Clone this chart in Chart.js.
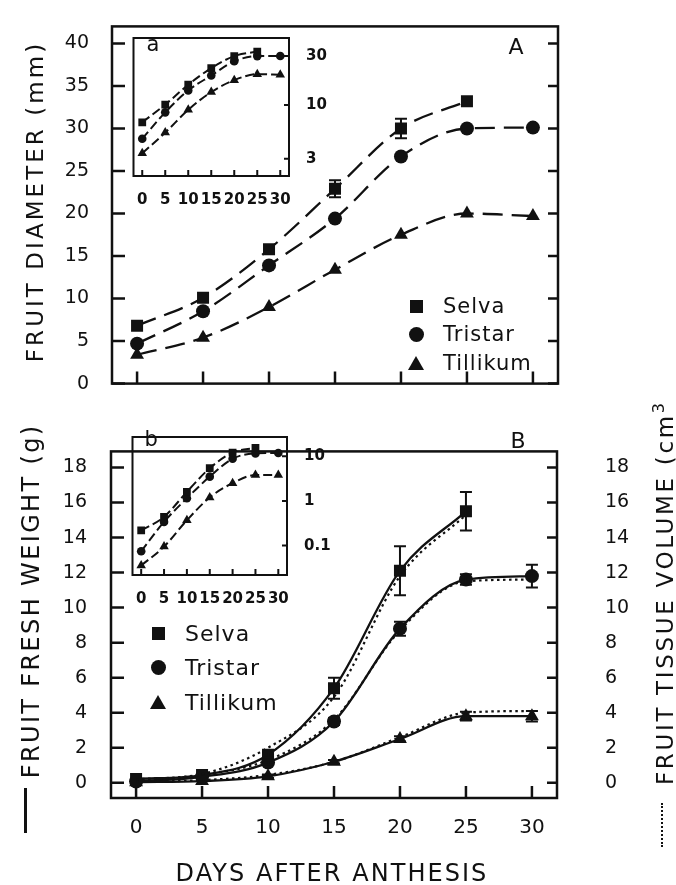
<!DOCTYPE html>
<html><head><meta charset="utf-8">
<script src="https://cdn.jsdelivr.net/npm/chart.js@4.4.1/dist/chart.umd.min.js"></script>
<style>
html,body{margin:0;padding:0;background:#fff;}
body{width:676px;height:885px;position:relative;overflow:hidden;font-family:"DejaVu Sans",sans-serif;color:#111;}
.box{position:absolute;}
.lbl{position:absolute;white-space:nowrap;line-height:1;color:#111;}
.mk{position:absolute;}
</style></head><body>
<div class="box" style="left:0;top:0;width:676px;height:410px"><canvas id="cA"></canvas></div>
<div class="box" style="left:0;top:400px;width:676px;height:485px"><canvas id="cB"></canvas></div>
<div class="box" style="left:128px;top:20px;width:202px;height:186px"><canvas id="ca"></canvas></div>
<div class="box" style="left:127px;top:419px;width:203px;height:186px"><canvas id="cb"></canvas></div>
<script>
// ---------- data ----------
const cultivars = ['Selva', 'Tristar', 'Tillikum'];
const days = [0, 5, 10, 15, 20, 25, 30];
const dayTicks = [0, 5, 10, 15, 20, 25, 30];
const diamTicks = [0, 5, 10, 15, 20, 25, 30, 35, 40];
const weightTicks = [0, 2, 4, 6, 8, 10, 12, 14, 16, 18];
const insetATicks = [3, 10, 30];
const insetBTicks = [0.1, 1, 10];

const diamSelva    = [6.8, 10.1, 15.8, 22.9, 30.0, 33.2, null];
const diamTristar  = [4.7, 8.5, 13.9, 19.4, 26.7, 30.0, 30.1];
const diamTillikum = [3.4, 5.4, 9.0, 13.4, 17.5, 20.0, 19.7];
const diamSelvaErr    = [0, 0, 0, 1.0, 1.15, 0, 0];
const diamTristarErr  = [0, 0, 0, 0, 0, 0, 0];
const diamTillikumErr = [0, 0, 0, 0, 0, 0, 0];

const weightSelva    = [0.22, 0.44, 1.6, 5.4, 12.1, 15.5, null];
const weightTristar  = [0.075, 0.34, 1.15, 3.5, 8.8, 11.6, 11.8];
const weightTillikum = [0.036, 0.095, 0.37, 1.2, 2.5, 3.8, 3.8];
const weightSelvaErr    = [0, 0, 0.15, 0.6, 1.4, 1.1, 0];
const weightTristarErr  = [0, 0, 0.1, 0.2, 0.4, 0.3, 0.65];
const weightTillikumErr = [0, 0, 0.1, 0.1, 0.15, 0.25, 0.3];

const volSelva    = [0.2, 0.5, 2.0, 4.9, 11.8, 15.3, null];
const volTristar  = [0.1, 0.45, 1.3, 3.6, 8.7, 11.5, 11.6];
const volTillikum = [0.05, 0.15, 0.45, 1.2, 2.6, 4.0, 4.1];

// ---------- helpers ----------
const INK = '#111';
const FAM = '"DejaVu Sans", sans-serif';
const styles = ['rect', 'circle', 'triangle'];
const pts = arr => days.map((d, i) => ({x: d, y: arr[i]}));

const framePlugin = {
  id: 'frame',
  afterDraw(chart, args, o) {
    const {ctx, chartArea: a} = chart;
    ctx.save();
    ctx.strokeStyle = INK; ctx.lineWidth = o.lw || 2.5;
    ctx.strokeRect(a.left, a.top, a.right - a.left, a.bottom - a.top);
    const ys = chart.scales.y, xs = chart.scales.x;
    ctx.beginPath();
    ys.ticks.forEach(t => {
      const p = ys.getPixelForValue(t.value);
      if (o.left) { ctx.moveTo(a.left, p); ctx.lineTo(a.left + o.left, p); }
      if (o.right) { ctx.moveTo(a.right, p); ctx.lineTo(a.right - o.right, p); }
    });
    xs.ticks.forEach(t => {
      const p = xs.getPixelForValue(t.value);
      if (o.bottom) { ctx.moveTo(p, a.bottom); ctx.lineTo(p, a.bottom - o.bottom); }
    });
    ctx.stroke();
    ctx.restore();
  }
};

const errPlugin = {
  id: 'errbars',
  afterDatasetsDraw(chart) {
    const ctx = chart.ctx;
    chart.data.datasets.forEach((ds, i) => {
      if (!ds.errors) return;
      const meta = chart.getDatasetMeta(i);
      const ys = chart.scales[meta.yAxisID];
      ctx.save(); ctx.strokeStyle = INK; ctx.lineWidth = 2;
      ds.errors.forEach((e, j) => {
        const v = ds.data[j].y;
        if (!e || v == null) return;
        const x = meta.data[j].x;
        const y1 = ys.getPixelForValue(v + e), y2 = ys.getPixelForValue(v - e);
        ctx.beginPath();
        ctx.moveTo(x, y1); ctx.lineTo(x, y2);
        ctx.moveTo(x - 6, y1); ctx.lineTo(x + 6, y1);
        ctx.moveTo(x - 6, y2); ctx.lineTo(x + 6, y2);
        ctx.stroke();
      });
      ctx.restore();
    });
  }
};

function setTicks(list) { return s => { s.ticks = list.map(v => ({value: v})); }; }

function baseOpts() {
  return {
    responsive: true, maintainAspectRatio: false, animation: false,
    plugins: {legend: {display: false}, tooltip: {enabled: false}},
    elements: {line: {cubicInterpolationMode: 'monotone'}}
  };
}

function lineDs(arr, k, o) {
  return Object.assign({
    label: cultivars[k], data: pts(arr),
    borderColor: INK, backgroundColor: INK,
    pointBackgroundColor: INK, pointBorderColor: INK, pointBorderWidth: 0,
    pointStyle: styles[k], spanGaps: false
  }, o);
}

const mainR = [8.5, 7, 8];
const insetR = [5.5, 4.3, 5.5];

// ---------- Panel A ----------
const optA = baseOpts();
optA.layout = {padding: {left: 0, right: 118, top: 12, bottom: 0}};
optA.plugins.frame = {lw: 2.5, left: 13, right: 10, bottom: 12};
optA.scales = {
  x: {type: 'linear', min: -1.9, max: 31.9, afterBuildTicks: setTicks(dayTicks),
      ticks: {display: false}, grid: {display: false}, border: {display: false},
      afterFit: s => { s.height = 12; }},
  y: {type: 'linear', min: 0, max: 42, afterBuildTicks: setTicks(diamTicks),
      ticks: {font: {size: 19, family: FAM}, color: INK, padding: 15, autoSkip: false},
      grid: {display: false}, border: {display: false},
      afterFit: s => { s.width = 112; }}
};
new Chart(document.getElementById('cA'), {
  type: 'line',
  data: {datasets: [
    lineDs(diamSelva, 0, {errors: diamSelvaErr, borderWidth: 2.3, borderDash: [20, 9], pointRadius: mainR[0]}),
    lineDs(diamTristar, 1, {errors: diamTristarErr, borderWidth: 2.3, borderDash: [20, 9], pointRadius: mainR[1]}),
    lineDs(diamTillikum, 2, {errors: diamTillikumErr, borderWidth: 2.3, borderDash: [20, 9], pointRadius: mainR[2]})
  ]},
  options: optA, plugins: [framePlugin, errPlugin]
});

// ---------- Panel B ----------
const optB = baseOpts();
optB.layout = {padding: {left: 0, right: 0, top: 12, bottom: 0}};
optB.plugins.frame = {lw: 2.5, left: 13, right: 10, bottom: 12};
optB.scales = {
  x: {type: 'linear', min: -1.9, max: 31.9, afterBuildTicks: setTicks(dayTicks),
      ticks: {font: {size: 20, family: FAM}, color: INK, padding: 10, autoSkip: false, maxRotation: 0, minRotation: 0},
      grid: {display: false}, border: {display: false},
      afterFit: s => { s.height = 87; }},
  y: {type: 'linear', min: -0.87, max: 18.92, afterBuildTicks: setTicks(weightTicks),
      ticks: {font: {size: 19, family: FAM}, color: INK, padding: 16, autoSkip: false},
      grid: {display: false}, border: {display: false},
      afterFit: s => { s.width = 111; }},
  y2: {type: 'linear', position: 'right', min: -0.87, max: 18.92, afterBuildTicks: setTicks(weightTicks),
      ticks: {font: {size: 19, family: FAM}, color: INK, padding: 40, autoSkip: false},
      grid: {display: false}, border: {display: false},
      afterFit: s => { s.width = 119; }}
};
const volDs = (arr, k) => lineDs(arr, k, {label: cultivars[k] + ' volume', yAxisID: 'y2', borderWidth: 2.2, borderDash: [2.5, 3.5], pointRadius: 0});
new Chart(document.getElementById('cB'), {
  type: 'line',
  data: {datasets: [
    volDs(volSelva, 0), volDs(volTristar, 1), volDs(volTillikum, 2),
    lineDs(weightSelva, 0, {errors: weightSelvaErr, yAxisID: 'y', borderWidth: 2.3, pointRadius: mainR[0]}),
    lineDs(weightTristar, 1, {errors: weightTristarErr, yAxisID: 'y', borderWidth: 2.3, pointRadius: mainR[1]}),
    lineDs(weightTillikum, 2, {errors: weightTillikumErr, yAxisID: 'y', borderWidth: 2.3, pointRadius: mainR[2]})
  ]},
  options: optB, plugins: [framePlugin, errPlugin]
});

// ---------- Insets ----------
function insetOpts(min, max, tickList, yWidth) {
  const o = baseOpts();
  o.layout = {padding: {left: 4, right: 0, top: 4, bottom: 0}};
  o.plugins.frame = {lw: 2, right: 5, bottom: 6};
  o.scales = {
    x: {type: 'linear', min: -1.9, max: 31.9, afterBuildTicks: setTicks(dayTicks),
        ticks: {font: {size: 15, weight: 'bold', family: FAM}, color: INK, padding: 7, autoSkip: false, maxRotation: 0, minRotation: 0},
        grid: {display: false}, border: {display: false},
        afterFit: s => { s.height = 30; }},
    y: {type: 'logarithmic', position: 'right', min: min, max: max, afterBuildTicks: setTicks(tickList),
        ticks: {font: {size: 15, weight: 'bold', family: FAM}, color: INK, padding: 9, autoSkip: false,
                callback: v => String(v)},
        grid: {display: false}, border: {display: false},
        afterFit: s => { s.width = yWidth; }}
  };
  return o;
}
const insetDs = (arr, k) => lineDs(arr, k, {borderWidth: 2, borderDash: [9, 4], pointRadius: insetR[k]});
new Chart(document.getElementById('ca'), {
  type: 'line',
  data: {datasets: [insetDs(diamSelva, 0), insetDs(diamTristar, 1), insetDs(diamTillikum, 2)]},
  options: insetOpts(2.04, 45, insetATicks, 41), plugins: [framePlugin]
});
new Chart(document.getElementById('cb'), {
  type: 'line',
  data: {datasets: [insetDs(weightSelva, 0), insetDs(weightTristar, 1), insetDs(weightTillikum, 2)]},
  options: insetOpts(0.022, 27, insetBTicks, 43), plugins: [framePlugin]
});

// ---------- HTML text ----------
function place(html, cx, cy, o) {
  const el = document.createElement('div');
  el.className = 'lbl';
  el.innerHTML = html;
  el.style.font = o.font;
  document.body.appendChild(el);
  if (o.len) {
    const w0 = el.offsetWidth;
    const n = el.textContent.length;
    const ls = (o.len - w0) / n;
    el.style.letterSpacing = ls + 'px';
    el.style.paddingLeft = Math.max(0, ls) + 'px';
  }
  const w = el.offsetWidth, h = el.offsetHeight;
  el.style.left = (cx - w / 2) + 'px';
  el.style.top = (cy - h / 2) + 'px';
  if (o.rot) el.style.transform = 'rotate(' + o.rot + 'deg)';
  return el;
}
place('FRUIT DIAMETER (mm)', 35, 203, {font: '23px ' + FAM, len: 321, rot: -90});
place('FRUIT FRESH WEIGHT (g)', 30, 602, {font: '24px ' + FAM, len: 355, rot: -90});
place('FRUIT TISSUE VOLUME (cm<span style="font-size:70%;position:relative;top:-0.55em">3</span>', 664, 594, {font: '23px ' + FAM, len: 385, rot: -90});
place('DAYS AFTER ANTHESIS', 331, 873, {font: '24px ' + FAM, len: 313});
place('A', 516, 46, {font: '22px ' + FAM});
place('B', 518, 440, {font: '22px ' + FAM});
place('a', 153, 44, {font: '21px ' + FAM});
place('b', 151, 439, {font: '21px ' + FAM});

// axis title line keys
const dash = document.createElement('div');
dash.style.cssText = 'position:absolute;left:24px;top:788px;width:2.5px;height:45px;background:#111';
document.body.appendChild(dash);
const dots = document.createElement('div');
dots.style.cssText = 'position:absolute;left:661px;top:803px;width:0;height:44px;border-left:2.5px dotted #111';
document.body.appendChild(dots);

// legends
function marker(k, cx, cy) {
  const m = document.createElement('div');
  m.className = 'mk';
  if (k === 0) { m.style.cssText += 'width:13px;height:13px;background:#111;'; m.style.left = (cx - 6.5) + 'px'; m.style.top = (cy - 6.5) + 'px'; }
  if (k === 1) { m.style.cssText += 'width:15px;height:15px;border-radius:50%;background:#111;'; m.style.left = (cx - 7.5) + 'px'; m.style.top = (cy - 7.5) + 'px'; }
  if (k === 2) { m.style.cssText += 'width:0;height:0;border-left:8px solid transparent;border-right:8px solid transparent;border-bottom:14px solid #111;'; m.style.left = (cx - 8) + 'px'; m.style.top = (cy - 7) + 'px'; }
  document.body.appendChild(m);
}
function legend(mx, tx, rows, size) {
  cultivars.forEach((c, k) => {
    marker(k, mx, rows[k]);
    const el = place(c, 0, rows[k], {font: size + 'px ' + FAM});
    el.style.left = tx + 'px';
    el.style.letterSpacing = '1px';
  });
}
legend(416, 443, [306, 334, 363], 21);
legend(158, 185, [633, 667, 702], 22);
</script>
</body></html>
